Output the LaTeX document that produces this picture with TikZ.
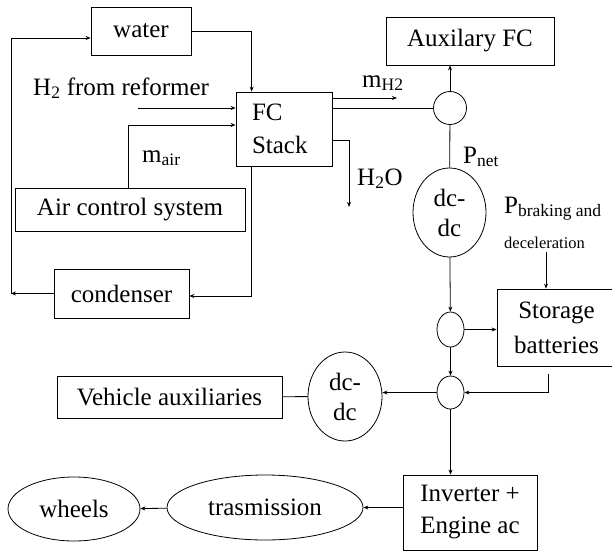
\documentclass[tikz,border=0pt]{standalone}
\usepackage{fontspec}
\setmainfont{Liberation Serif}
\usetikzlibrary{arrows.meta,shapes.geometric,calc}

\begin{document}
\begin{tikzpicture}[x=1pt,y=-1pt,
    box/.style={draw,line width=0.8pt,inner sep=0pt},
    blob/.style={draw,ellipse,line width=0.8pt,inner sep=0pt},
    arrow/.style={-{Stealth[length=5pt,width=4pt]},line width=0.8pt},
    wire/.style={line width=0.8pt},
    lbl/.style={inner sep=0pt,anchor=base west},
    font=\fontsize{25}{30}\selectfont
  ]
  \useasboundingbox (0,0) rectangle (612,551);

  % fuel cell side
  \node[box,minimum width=100pt,minimum height=48pt] (water) at (141,31) {water};
  \node[box,minimum width=96pt,minimum height=74pt,text width=64pt,align=left,
    font=\fontsize{25}{33}\selectfont] (fc) at (284,129) {FC\\Stack};
  \node[box,minimum width=230pt,minimum height=43pt] (air) at (130,209.5) {Air control system};
  \node[box,minimum width=135pt,minimum height=49pt] (cond) at (121.5,293.5) {condenser};
  \node[box,minimum width=168pt,minimum height=48pt] (aux) at (470,41) {Auxilary FC};

  % power path
  \node[blob,minimum width=33pt,minimum height=33pt] (junc) at (450,108) {};
  \node[blob,minimum width=73pt,minimum height=89pt,align=center] (dcA) at (449.5,212.5) {dc-\\dc};
  \node[blob,minimum width=27pt,minimum height=35pt] (sA) at (450.5,329.5) {};
  \node[box,minimum width=119pt,minimum height=77pt,align=center,
    font=\fontsize{25}{35}\selectfont] (store) at (556.5,327.5) {Storage\\batteries};
  \node[blob,minimum width=27pt,minimum height=33pt] (sB) at (450.5,392.5) {};
  \node[blob,minimum width=74pt,minimum height=89pt,align=center] (dcB) at (345,396.5) {dc-\\dc};
  \node[box,minimum width=225pt,minimum height=42pt] (vaux) at (169.5,397) {Vehicle auxiliaries};
  \node[box,minimum width=134pt,minimum height=75pt,align=center,
    font=\fontsize{25}{32}\selectfont] (inv) at (470,512.5) {Inverter +\\Engine ac};
  \node[blob,minimum width=196pt,minimum height=65pt] (trans) at (265,507.5) {trasmission};
  \node[blob,minimum width=132pt,minimum height=64pt] (wheels) at (74,509) {wheels};

  % labels
  \node[lbl] (h2lbl) at (33,95) {H\textsubscript{2} from reformer};
  \node[lbl] (mair) at (142,162) {m\textsubscript{air}};
  \node[lbl] (mh2) at (362,87) {m\textsubscript{H2}};
  \node[lbl] (h2o) at (357,185) {H\textsubscript{2}O};
  \node[lbl] (pnet) at (463,163) {P\textsubscript{net}};
  \node[lbl] (pbrk) at (504,213) {P\textsubscript{braking and}};
  \node[lbl,font=\fontsize{16.5}{18}\selectfont] (pdec) at (504,248) {deceleration};

  \coordinate (loopA) at (11,293.5);
  \coordinate (h2in) at (138,108);
  \coordinate (mh2end) at (397,98);
  \coordinate (h2oend) at (349,207);
  \coordinate (brk) at (546,252);
  \coordinate (retA) at (548,374);

  \draw[arrow] (water.east) -| ([xshift=16pt]fc.north west);
  \draw[arrow] (cond.west) -- (loopA);
  \draw[arrow] (loopA) |- ([yshift=-7pt]water.west);
  \draw[arrow] (h2in) -- (h2in -| fc.west);
  \draw[arrow] ([xshift=-2pt]air.north) |- ([yshift=4pt]fc.west);
  \draw[arrow] ([xshift=16pt]fc.south west) |- ([yshift=-2.5pt]cond.east);
  \draw[arrow] (fc.east |- mh2end) -- (mh2end);
  \draw[wire] (fc.east |- junc) -- (junc);
  \draw[arrow] ([yshift=-11pt]fc.east) -| (h2oend);

  \draw[arrow] (junc) -- (junc |- aux.south);
  \draw[wire] (junc) -- (dcA);
  \draw[arrow] (dcA) -- (sA);
  \draw[arrow] (sA) -- (sA -| store.west);
  \draw[arrow] (sA) -- (sB);
  \draw[arrow] (brk) -- (brk |- store.north);
  \draw[arrow] (retA) |- (sB);
  \draw[arrow] (sB.west) -- (sB.west -| dcB.east);
  \draw[wire] (dcB) -- (vaux);
  \draw[arrow] (sB) -- (sB |- inv.north);
  \draw[arrow] (inv.west |- trans) -- (trans);
  \draw[arrow] (trans) -- (wheels);
\end{tikzpicture}
\end{document}
